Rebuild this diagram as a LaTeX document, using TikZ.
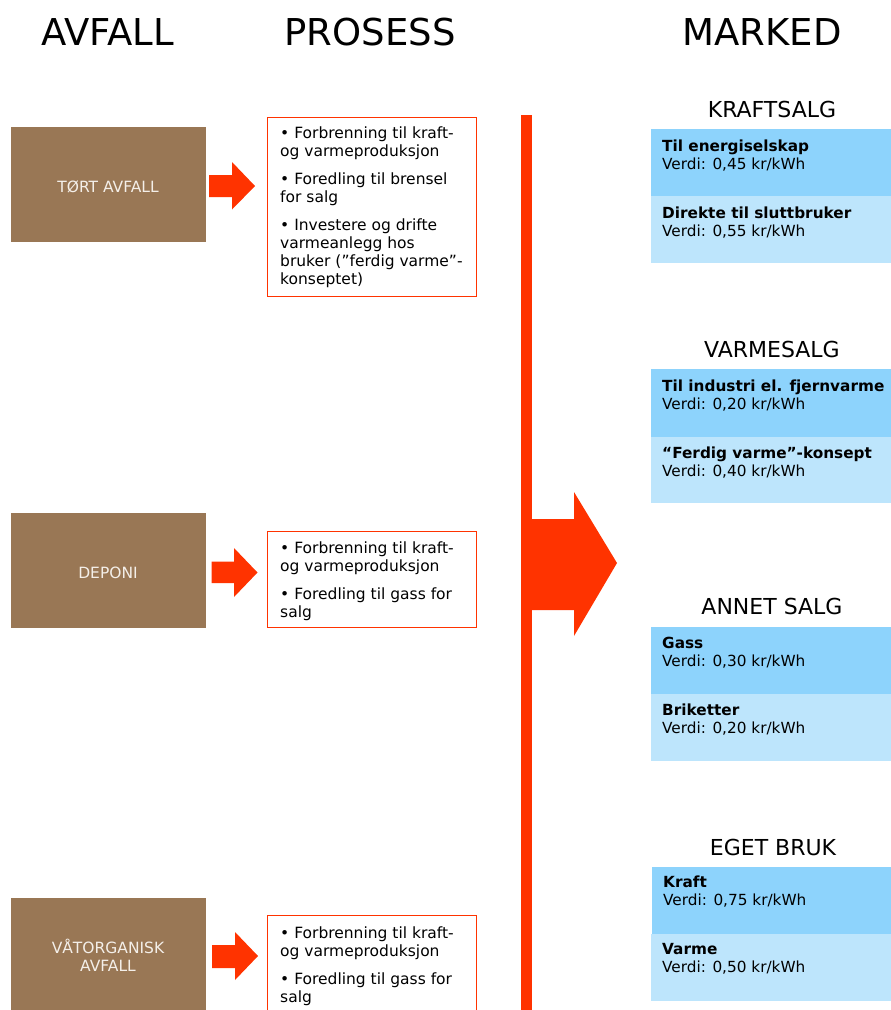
\documentclass[tikz,border=0pt]{standalone}
\usepackage{fontspec}
\setmainfont{DejaVu Sans}
\definecolor{brownbox}{HTML}{997755}
\definecolor{redor}{HTML}{FF3300}
\definecolor{bluedark}{HTML}{8DD3FC}
\definecolor{bluelight}{HTML}{BDE5FC}
\definecolor{beige}{HTML}{F4EFE9}
\tikzset{
  head/.style={anchor=base, inner sep=0pt, font=\fontsize{37}{40}\selectfont},
  mhead/.style={anchor=base, inner sep=0pt, font=\fontsize{22}{25}\selectfont},
  waste/.style={fill=brownbox, draw=none},
  wastetext/.style={anchor=base, inner sep=0pt, align=center, text=beige, font=\fontsize{15.5}{18}\selectfont},
  procbox/.style={draw=redor, line width=0.9pt, fill=white},
  proctext/.style={anchor=base west, inner sep=0pt, align=left, font=\fontsize{15.5}{18}\selectfont},
  mdark/.style={fill=bluedark, draw=none},
  mlight/.style={fill=bluelight, draw=none},
  mtext/.style={anchor=base west, inner sep=0pt, align=left, font=\fontsize{15.3}{17.5}\selectfont},
  blockarrow/.style={fill=redor, draw=none},
}
\begin{document}
\begin{tikzpicture}[x=1pt,y=-1pt]
\useasboundingbox (0,0) rectangle (891,1010);
% headings
\node[head] (hA) at (107.5,45) {AVFALL};
\node[head] (hP) at (370,45) {PROSESS};
\node[head] (hM) at (762,45) {MARKED};

% waste boxes
\fill[waste] (11,127) rectangle (205.5,241.5);
\node[wastetext] (w1) at (108,192) {TØRT AVFALL};
\fill[waste] (11,513) rectangle (205.5,628);
\node[wastetext] (w2) at (108,578) {DEPONI};
\fill[waste] (11,898) rectangle (205.5,1015);
\node[wastetext] (w3) at (108,971) {VÅTORGANISK\\AVFALL};

% small arrows
\fill[blockarrow] (209,175) -- (232,175) -- (232,162) -- (255,186) -- (232,209.5) -- (232,197) -- (209,197) -- cycle;
\fill[blockarrow] (211.5,561.5) -- (234,561.5) -- (234,548) -- (257.5,572.5) -- (234,597) -- (234,583) -- (211.5,583) -- cycle;
\fill[blockarrow] (212,945) -- (235,945) -- (235,932) -- (258,956) -- (235,980) -- (235,968) -- (212,968) -- cycle;

% process boxes
\draw[procbox] (267.5,117) rectangle (476.5,296);
\node[proctext] (p1) at (280,284) {• Forbrenning til kraft-\\og varmeproduksjon\\[10pt]• Foredling til brensel\\for salg\\[10pt]• Investere og drifte\\varmeanlegg hos\\bruker (”ferdig varme”-\\konseptet)};
\draw[procbox] (267.5,531) rectangle (476.5,627);
\node[proctext] (p2) at (280,617) {• Forbrenning til kraft-\\og varmeproduksjon\\[10pt]• Foredling til gass for\\salg};
\draw[procbox] (267.5,915.5) rectangle (476.5,1020);
\node[proctext] (p3) at (280,1002) {• Forbrenning til kraft-\\og varmeproduksjon\\[10pt]• Foredling til gass for\\salg};

% central bar and big arrow
\fill[blockarrow] (521,115) rectangle (532,1015);
\fill[blockarrow] (531,519) -- (574,519) -- (574,492) -- (617,563) -- (574,636) -- (574,610) -- (531,610) -- cycle;

% market
\node[mhead] (m1) at (772,117) {KRAFTSALG};
\fill[mdark] (651,129) rectangle (891,196);
\fill[mlight] (651,196) rectangle (891,263);
\node[mtext] (m1a) at (662,169) {\textbf{Til energiselskap}\\Verdi: 0,45 kr/kWh};
\node[mtext] (m1b) at (662,236) {\textbf{Direkte til sluttbruker}\\Verdi: 0,55 kr/kWh};

\node[mhead] (m2) at (772,357) {VARMESALG};
\fill[mdark] (651,369) rectangle (891,437);
\fill[mlight] (651,437) rectangle (891,503);
\node[mtext] (m2a) at (662,409) {\textbf{Til industri el. fjernvarme}\\Verdi: 0,20 kr/kWh};
\node[mtext] (m2b) at (662,476) {\textbf{“Ferdig varme”-konsept}\\Verdi: 0,40 kr/kWh};

\node[mhead] (m3) at (772,614) {ANNET SALG};
\fill[mdark] (651,627) rectangle (891,694);
\fill[mlight] (651,694) rectangle (891,761);
\node[mtext] (m3a) at (662,666) {\textbf{Gass}\\Verdi: 0,30 kr/kWh};
\node[mtext] (m3b) at (662,733) {\textbf{Briketter}\\Verdi: 0,20 kr/kWh};

\node[mhead] (m4) at (773,855) {EGET BRUK};
\fill[mdark] (652,867) rectangle (891,934);
\fill[mlight] (651,934) rectangle (891,1001);
\node[mtext] (m4a) at (663,905) {\textbf{Kraft}\\Verdi: 0,75 kr/kWh};
\node[mtext] (m4b) at (662,972) {\textbf{Varme}\\Verdi: 0,50 kr/kWh};
\end{tikzpicture}
\end{document}
